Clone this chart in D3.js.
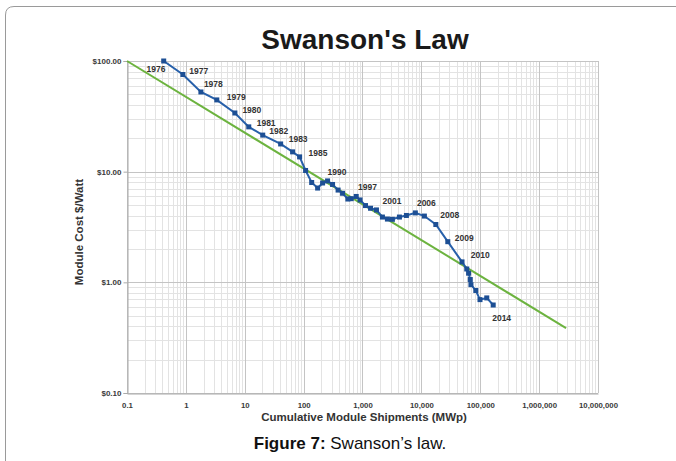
<!DOCTYPE html>
<html><head><meta charset="utf-8">
<script src="https://cdn.jsdelivr.net/npm/d3@7"></script>
<style>body{margin:0;background:#fff;}svg{display:block;font-family:"Liberation Sans",Arial,sans-serif;}</style>
</head><body>
<svg id="c" width="676" height="461"></svg>
<script>
// ---- data ----
const shipments = [0.42, 0.89, 1.8, 3.35, 6.8, 11.7, 20.2, 40.7, 65, 85.5, 108, 137, 173, 210, 255, 310, 385, 458, 564, 643, 782, 908, 1125, 1370, 1727, 2180, 2650, 3220, 4240, 5570, 7900, 11250, 17600, 28100, 49000, 59000, 63400, 67700, 69500, 84000, 99000, 129000, 166000];
const costs = [100, 75.5, 52.5, 44.5, 33.9, 25.4, 21.4, 17.8, 15.1, 13.6, 10.25, 7.98, 7.11, 7.9, 8.25, 7.66, 6.82, 6.38, 5.66, 5.7, 5.97, 5.55, 4.94, 4.67, 4.51, 3.89, 3.73, 3.71, 3.89, 4.02, 4.24, 3.97, 3.33, 2.33, 1.53, 1.32, 1.21, 1.06, 0.953, 0.844, 0.698, 0.723, 0.624];
const trendShip = [0.1, 2870000];
const trendCost = [100, 0.386];
const labelYears = ["1976","1977","1978","1979","1980","1981","1982","1983","1985","1990","1997","2001","2006","2008","2009","2010","2014"];
const labelShip = [0.31, 1.66, 2.93, 7.18, 13.2, 23.1, 37.7, 80.7, 176, 370, 1216, 3162, 12160, 30400, 53600, 100000, 231000];
const labelCost = [84.1, 81.7, 61.9, 47.6, 36.1, 27.7, 23.4, 19.7, 14.8, 10.0, 7.31, 5.47, 5.24, 4.06, 2.53, 1.77, 0.473];
const xTicks = [0.1, 1, 10, 100, 1000, 10000, 100000, 1000000, 10000000];
const xTickLabels = ["0.1","1","10","100","1,000","10,000","100,000","1,000,000","10,000,000"];
const yTicks = [100, 10, 1, 0.1];
const yTickLabels = ["$100.00","$10.00","$1.00","$0.10"];
const titleText = "Swanson's Law";
const xTitle = "Cumulative Module Shipments (MWp)";
const yTitle = "Module Cost $/Watt";

// ---- drawing ----
const svg = d3.select("#c");
const L = 127, R = 598, T = 61, B = 393;
const x = d3.scaleLog().domain([0.1, 1e7]).range([L, R]);
const y = d3.scaleLog().domain([0.1, 100]).range([B, T]);

// frame
svg.append("path").attr("d", "M5.5,461 L5.5,15 Q5.5,6.5 14,6.5 L676,6.5")
  .attr("fill","none").attr("stroke","#9a9a9a").attr("stroke-width",1);

// grid minor
const minorX = [], minorY = [];
for (let e = -1; e < 7; e++) for (let m = 2; m <= 9; m++) minorX.push(m * Math.pow(10, e));
for (let e = -1; e < 2; e++) for (let m = 2; m <= 9; m++) minorY.push(m * Math.pow(10, e));
const g = svg.append("g");
g.selectAll(".mx").data(minorX).join("line")
  .attr("x1", d => Math.round(x(d))+0.5).attr("x2", d => Math.round(x(d))+0.5).attr("y1", T).attr("y2", B)
  .attr("stroke","#e3e3e3").attr("stroke-width",1);
g.selectAll(".my").data(minorY).join("line")
  .attr("y1", d => Math.round(y(d))+0.5).attr("y2", d => Math.round(y(d))+0.5).attr("x1", L).attr("x2", R)
  .attr("stroke","#e3e3e3").attr("stroke-width",1);
g.selectAll(".Mx").data(xTicks).join("line")
  .attr("x1", d => Math.round(x(d))+0.5).attr("x2", d => Math.round(x(d))+0.5).attr("y1", T).attr("y2", B)
  .attr("stroke","#c4c4c4").attr("stroke-width",1);
g.selectAll(".My").data(yTicks).join("line")
  .attr("y1", d => Math.round(y(d))+0.5).attr("y2", d => Math.round(y(d))+0.5).attr("x1", L).attr("x2", R)
  .attr("stroke","#c4c4c4").attr("stroke-width",1);

// axes
const yAxis = d3.axisLeft(y).tickValues(yTicks).tickFormat((d,i) => yTickLabels[i]).tickSize(4).tickPadding(2);
const ya = svg.append("g").attr("transform", `translate(${L+0.5},0)`).call(yAxis);
ya.select(".domain").attr("stroke","#aaa");
ya.selectAll(".tick line").attr("stroke","#aaa");
ya.selectAll("text").attr("font-size", 8).attr("font-weight","bold").attr("fill","#3a3a3a").attr("font-family","Liberation Sans, Arial");

const xAxis = d3.axisBottom(x).tickValues(xTicks).tickFormat((d,i) => xTickLabels[i]).tickSize(0).tickPadding(9);
const xa = svg.append("g").attr("transform", `translate(0,${B+0.5})`).call(xAxis);
xa.select(".domain").attr("stroke","#aaa");
xa.selectAll("text").attr("font-size", 7.8).attr("font-weight","bold").attr("fill","#3a3a3a").attr("font-family","Liberation Sans, Arial");

// trend line
svg.append("line")
  .attr("x1", x(trendShip[0])).attr("y1", y(trendCost[0]))
  .attr("x2", x(trendShip[1])).attr("y2", y(trendCost[1]))
  .attr("stroke","#6cb33f").attr("stroke-width",2);

// data line
const pts = shipments.map((s,i) => [s, costs[i]]);
svg.append("path").datum(pts)
  .attr("d", d3.line().x(d => x(d[0])).y(d => y(d[1])))
  .attr("fill","none").attr("stroke","#2760aa").attr("stroke-width",2);
svg.selectAll(".pt").data(pts).join("rect")
  .attr("x", d => x(d[0]) - 2.5).attr("y", d => y(d[1]) - 2.5)
  .attr("width",5).attr("height",5).attr("fill","#1d4f94");

// year labels
svg.selectAll(".yl").data(labelYears).join("text")
  .attr("x", (d,i) => x(labelShip[i])).attr("y", (d,i) => y(labelCost[i]))
  .attr("text-anchor","middle").attr("dominant-baseline","central")
  .attr("font-size", 8.5).attr("font-weight","bold").attr("fill","#333")
  .text(d => d);

// titles
svg.append("text").attr("x", 365).attr("y", 49).attr("text-anchor","middle")
  .attr("font-size", 28).attr("font-weight","bold").attr("fill","#1a1a1a").text(titleText);
svg.append("text").attr("x", 364).attr("y", 421).attr("text-anchor","middle")
  .attr("font-size", 11.5).attr("font-weight","bold").attr("fill","#333").text(xTitle);
svg.append("text").attr("transform","translate(83,232) rotate(-90)").attr("text-anchor","middle")
  .attr("font-size", 11.5).attr("font-weight","bold").attr("fill","#333").text(yTitle);

// caption
const cap = svg.append("text").attr("x", 350).attr("y", 449).attr("text-anchor","middle")
  .attr("font-size", 17).attr("fill","#111");
cap.append("tspan").attr("font-weight","bold").text("Figure 7:");
cap.append("tspan").text(" Swanson\u2019s law.");
</script>
</body></html>
